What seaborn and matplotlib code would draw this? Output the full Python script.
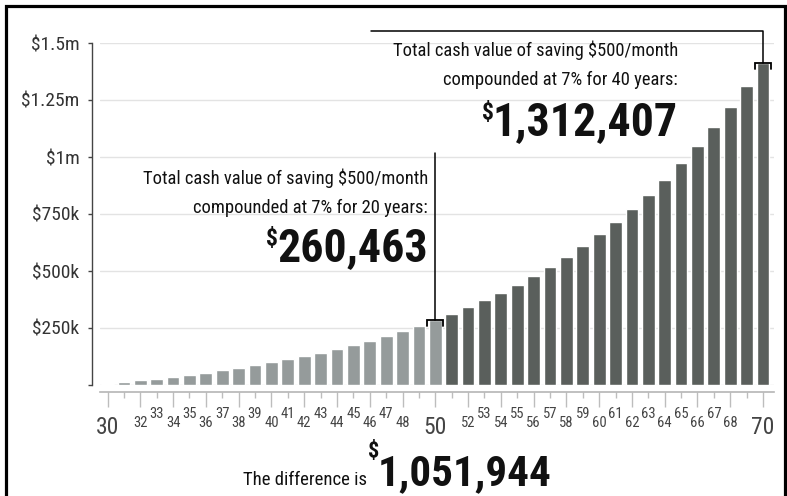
import matplotlib
matplotlib.use("Agg")
import matplotlib.pyplot as plt
import seaborn as sns
import pandas as pd
from matplotlib import font_manager as fm
from matplotlib.lines import Line2D

# ---------------- data ----------------
ages = list(range(30, 71))
values = [6196, 12841, 19965, 27605, 35796, 44581, 54000, 64099, 74930, 86542,
          98995, 112347, 126665, 142018, 158481, 176134, 195063, 215360, 237125, 260463,
          285488, 312322, 341096, 371950, 405035, 440511, 478551, 519342, 563081, 609983,
          660274, 714202, 772027, 834033, 900522, 971816, 1048264, 1130239, 1218139, 1312394,
          1413462]
phase = ["first" if a <= 50 else "second" for a in ages]
ytick_values = [0, 250000, 500000, 750000, 1000000, 1250000, 1500000]
ytick_labels = ["", "$250k", "$500k", "$750k", "$1m", "$1.25m", "$1.5m"]
hidden_ages = [31, 49, 51, 69]
big_ages = [30, 50, 70]

note40_lines = "Total cash value of saving $500/month\ncompounded at 7% for 40 years:"
note40_value = "1,312,407"
note20_lines = "Total cash value of saving $500/month\ncompounded at 7% for 20 years:"
note20_value = "260,463"
diff_label = "The difference is"
diff_value = "1,051,944"

LIGHT = "#959b9b"
DARK = "#5a5f5c"

# ---------------- style ----------------
sns.set_style("white")
available = {f.name for f in fm.fontManager.ttflist}
chosen = "DejaVu Sans"
for cand in ["Roboto Condensed", "Liberation Sans Narrow", "Liberation Sans"]:
    if cand in available:
        chosen = cand
        break
plt.rcParams["font.family"] = [chosen, "DejaVu Sans"]

fig = plt.figure(figsize=(7.87, 4.96), dpi=100)
W, H = 787, 496
ax = fig.add_axes([100 / W, 1 - 385 / H, 674 / W, (385 - 43) / H])

df = pd.DataFrame({"age": ages, "value": values, "phase": phase})
sns.barplot(data=df, x="age", y="value", hue="phase",
            palette={"first": LIGHT, "second": DARK}, dodge=False,
            width=0.78, saturation=1, legend=False, ax=ax)

ax.set_xlim(-0.46, 40.67)
ax.set_ylim(0, 1500000)
ax.set_xlabel("")
ax.set_ylabel("")
ax.yaxis.grid(True, color="#e3e3e3", lw=1)
ax.set_axisbelow(True)

sns.despine(ax=ax, offset={"left": 5.8, "bottom": 5})
ax.spines["left"].set_bounds(0, 1500000)
ax.spines["left"].set_color("#444444")
ax.spines["left"].set_linewidth(1)
ax.spines["bottom"].set_color("#b5b5b5")
ax.spines["bottom"].set_linewidth(1.2)

ax.set_yticks(ytick_values, labels=ytick_labels)
ax.tick_params(axis="y", direction="out", length=3, width=1, color="#444444",
               labelsize=14, labelcolor="#333333", pad=6, left=True)

# even ages: long ticks, lower labels (major); odd ages: short ticks, higher labels (minor)
even_pos = [i for i, a in enumerate(ages) if a % 2 == 0]
odd_pos = [i for i, a in enumerate(ages) if a % 2 == 1]
even_lab = ["" if ages[i] in hidden_ages else str(ages[i]) for i in even_pos]
odd_lab = ["" if ages[i] in hidden_ages else str(ages[i]) for i in odd_pos]
ax.set_xticks(even_pos, labels=even_lab)
ax.set_xticks(odd_pos, labels=odd_lab, minor=True)
ax.tick_params(axis="x", which="major", direction="out", width=1, length=10.8,
               color="#bdbdbd", labelcolor="#444444", labelsize=10.5, pad=6.2,
               bottom=True)
ax.tick_params(axis="x", which="minor", direction="out", width=1, length=4.3,
               color="#bdbdbd", labelcolor="#444444", labelsize=10.5, pad=6.8,
               bottom=True)
for lab in ax.get_xticklabels():
    if lab.get_text() in [str(a) for a in big_ages]:
        lab.set_fontsize(17)

# ---------------- annotations ----------------
i50 = ages.index(50)
i70 = ages.index(70)
leg = 26000
for idx in (i50, i70):
    v = values[idx]
    ax.plot([idx - 0.5, idx - 0.5, idx + 0.5, idx + 0.5], [v - leg, v, v, v - leg],
            color="black", lw=1.3, clip_on=False, solid_joinstyle="miter")
ax.plot([i50, i50], [values[i50], 1017000], color="black", lw=1.1, clip_on=False)
ax.plot([i70, i70, 16.1], [values[i70], 1552000, 1552000], color="black", lw=1.1,
        clip_on=False)

ax.text(34.8, 1404000, note40_lines, ha="right", va="center", fontsize=13.3,
        linespacing=1.78, color="#111111")
t40 = ax.text(34.8, 1095000, note40_value, ha="right", va="baseline", fontsize=33,
              fontweight="bold", color="#111111")
ax.text(19.55, 842000, note20_lines, ha="right", va="center", fontsize=13.3,
        linespacing=1.78, color="#111111")
t20 = ax.text(19.55, 542000, note20_value, ha="right", va="baseline", fontsize=33,
              fontweight="bold", color="#111111")

tdiff = fig.text(378 / W, 1 - 485 / H, diff_value, ha="left", va="baseline",
                 fontsize=31, fontweight="bold", color="#111111")

fig.canvas.draw()
r = fig.canvas.get_renderer()
inv = fig.transFigure.inverted()
for t in (t40, t20):
    bb = t.get_window_extent(r)
    x, y = inv.transform((bb.x0 + 1, bb.y1 - 1))
    fig.text(x, y, "$", ha="right", va="top", fontsize=17, fontweight="bold",
             color="#111111")
bb = tdiff.get_window_extent(r)
x, _ = inv.transform((bb.x0 + 1, 0))
sd = fig.text(x, 1 - 441 / H, "$", ha="right", va="top", fontsize=16,
              fontweight="bold", color="#111111")
fig.canvas.draw()
sbb = sd.get_window_extent(r)
x, _ = inv.transform((sbb.x0 - 1, 0))
fig.text(x, 1 - 485 / H, diff_label, ha="right", va="baseline", fontsize=13.5,
         color="#111111")

# frame (open at the bottom)
frame_x = [5.5, 5.5, 784.5, 784.5]
frame_y = [496, 5.5, 5.5, 496]
fig.add_artist(Line2D([v / W for v in frame_x], [1 - v / H for v in frame_y],
                      transform=fig.transFigure, color="black", lw=2.3,
                      solid_joinstyle="miter"))
fig.savefig("out.png", dpi=100)
